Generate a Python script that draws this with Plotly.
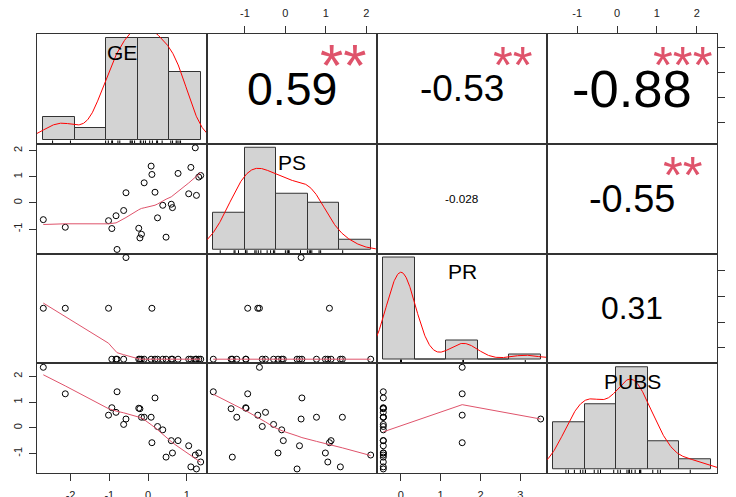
import numpy as np
import plotly.graph_objects as go

# ---------------- data ----------------
VARS = ["GE", "PS", "PR", "PUBS"]
GE = [-2.705, -2.137, -1.02, -0.935, -0.827, -0.80, -0.63, -0.57, -0.24, -0.21,
      -0.17, -0.10, 0.08, 0.10, 0.18, 0.245, 0.38, 0.465, 0.60, 0.63,
      0.775, 1.05, 1.106, 1.22, 1.25, 1.31, 1.36]
PS = [-0.64, -0.93, -0.68, -0.98, -0.49, -1.78, -0.29, 0.39, -0.97, -1.34,
      -1.20, 0.77, 1.41, 1.09, 0.41, -0.57, -0.09, -1.31, -0.05, -0.18,
      1.13, 0.35, 1.36, 2.11, 0.29, 0.99, 1.05]
PR = [1.54, 1.54, 1.54, -0.44, -0.44, -0.44, -0.44, 3.51, -0.44, -0.44,
      -0.44, -0.44, -0.44, 1.54, -0.44, -0.44, -0.44, -0.44, -0.44, -0.44,
      -0.44, -0.44, -0.44, -0.44, -0.44, -0.44, -0.44]
PUBS = [2.35, 1.32, 0.49, 0.78, 0.60, 1.40, 0.13, 0.34, 0.76, 0.74,
        0.41, 0.41, 0.41, -0.58, 1.16, 0.05, -0.08, -1.14, -0.50, -0.98,
        -0.50, -0.70, -1.52, -1.06, -1.60, -0.98, -1.33]

COR_PAIRS = [(0, 1), (0, 2), (0, 3), (1, 2), (1, 3), (2, 3)]
COR_TEXT = ["0.59", "-0.53", "-0.88", "-0.028", "-0.55", "0.31"]
COR_VALUE = [0.59, -0.53, -0.88, -0.028, -0.55, 0.31]
COR_STARS = ["**", "**", "***", "", "**", ""]

HIST_BREAKS = {"GE": [-3, -2, -1, 0, 1, 2], "PS": [-2, -1, 0, 1, 2, 3],
               "PR": [-1, 0, 1, 2, 3, 4], "PUBS": [-2, -1, 0, 1, 2, 3]}
TICKS = {"GE": [-2, -1, 0, 1], "PS": [-1, 0, 1, 2], "PR": [0, 1, 2, 3], "PUBS": [-1, 0, 1, 2]}

DATA = {"GE": np.array(GE), "PS": np.array(PS), "PR": np.array(PR), "PUBS": np.array(PUBS)}

FONT = "Liberation Sans, Arial, sans-serif"
SMOOTH_COL = "#DF536B"
BORDER = "#333333"


# ---------------- helpers (R equivalents) ----------------
def rlim(v):
    lo, hi = float(np.min(v)), float(np.max(v))
    d = hi - lo
    return [lo - 0.04 * d, hi + 0.04 * d]


def _lowest(x, y, n, xs, nleft, nright, rw, userw):
    rng = x[-1] - x[0]
    h = max(xs - x[nleft], x[nright] - xs)
    h9, h1 = 0.999 * h, 0.001 * h
    w = np.zeros(n)
    a = 0.0
    j = nleft
    while j < n:
        r = abs(x[j] - xs)
        if r <= h9:
            w[j] = 1.0 if r <= h1 else (1 - (r / h) ** 3) ** 3
            if userw:
                w[j] *= rw[j]
            a += w[j]
        elif x[j] > xs:
            break
        j += 1
    nrt = j - 1
    if a <= 0:
        return 0.0, False
    sl = slice(nleft, nrt + 1)
    w[sl] /= a
    if h > 0:
        a2 = np.sum(w[sl] * x[sl])
        b = xs - a2
        c = np.sum(w[sl] * (x[sl] - a2) ** 2)
        if np.sqrt(c) > 0.001 * rng:
            b /= c
            w[sl] *= (b * (x[sl] - a2) + 1)
    return float(np.sum(w[sl] * y[sl])), True


def lowess(x, y, f=2 / 3, it=3):
    order = np.argsort(x, kind="stable")
    x = np.asarray(x, float)[order]
    y = np.asarray(y, float)[order]
    n = len(x)
    ns = max(2, min(n, int(f * n + 1e-7)))
    delta = 0.01 * (x[-1] - x[0])
    ys = np.zeros(n)
    rw = np.ones(n)
    for itn in range(it + 1):
        nleft, nright = 0, ns - 1
        last = -1
        i = 0
        while True:
            if nright < n - 1:
                d1 = x[i] - x[nleft]
                d2 = x[nright + 1] - x[i]
                if d1 > d2:
                    nleft += 1
                    nright += 1
                    continue
            val, ok = _lowest(x, y, n, x[i], nleft, nright, rw, itn > 0)
            ys[i] = val if ok else y[i]
            if last < i - 1:
                denom = x[i] - x[last]
                for jj in range(last + 1, i):
                    al = (x[jj] - x[last]) / denom
                    ys[jj] = al * ys[i] + (1 - al) * ys[last]
            last = i
            cut = x[last] + delta
            i = last + 1
            while i < n:
                if x[i] > cut:
                    break
                if x[i] == x[last]:
                    ys[i] = ys[last]
                    last = i
                i += 1
            i = max(last + 1, i - 1)
            if last >= n - 1:
                break
        res = y - ys
        if itn >= it:
            break
        sc = np.mean(np.abs(res))
        cmad = 6 * np.median(np.abs(res))
        if cmad < 1e-7 * sc:
            break
        c9, c1 = 0.999 * cmad, 0.001 * cmad
        r = np.abs(res)
        rw = np.where(r <= c1, 1.0, np.where(r <= c9, (1 - (r / cmad) ** 2) ** 2, 0.0))
    return x, ys


def density(v):
    v = np.asarray(v, float)
    n = len(v)
    hi = np.std(v, ddof=1)
    q75, q25 = np.percentile(v, [75, 25])
    lo = min(hi, (q75 - q25) / 1.34)
    if not lo:
        lo = hi
    bw = 0.9 * lo * n ** -0.2
    gx = np.linspace(v.min() - 3 * bw, v.max() + 3 * bw, 512)
    gy = np.exp(-0.5 * ((gx[:, None] - v[None, :]) / bw) ** 2).sum(axis=1) / (n * bw * np.sqrt(2 * np.pi))
    return gx, gy


def hist_density(v, breaks):
    b = np.asarray(breaks, float)
    idx = np.searchsorted(b, v, side="left") - 1
    idx = np.clip(idx, 0, len(b) - 2)
    counts = np.bincount(idx, minlength=len(b) - 1)
    dens = counts / (len(v) * np.diff(b))
    return (b[:-1] + b[1:]) / 2, np.diff(b), dens


def str_em(s):
    w = {"-": 0.333, ".": 0.278}
    return sum(w.get(ch, 0.556) for ch in s)


# ---------------- figure ----------------
fig = go.Figure()
layout = {}
annotations = []
N = 4


def ax_names(k):
    s = "" if k == 1 else str(k)
    return "xaxis" + s, "yaxis" + s, "x" + s, "y" + s


shown_x = {(3, 0): "bottom", (3, 2): "bottom", (0, 1): "top", (0, 3): "top"}
shown_y = {(1, 0): "left", (3, 0): "left", (0, 3): "right", (2, 3): "right"}

for i in range(N):
    for j in range(N):
        k = i * N + j + 1
        xa, ya, xr, yr = ax_names(k)
        vx, vy = VARS[j], VARS[i]
        if i == j:
            b = HIST_BREAKS[vx]
            xc, wd, dens = hist_density(DATA[vx], b)
            span = b[-1] - b[0]
            xrange = [b[0] - 0.04 * span, b[-1] + 0.04 * span]
            md = dens.max()
            yrange = [-0.04 * md, 1.04 * md]
            fig.add_trace(go.Bar(x=xc, y=dens, width=wd, marker=dict(color="#D3D3D3", line=dict(color=BORDER, width=1)),
                                 xaxis=xr, yaxis=yr, showlegend=False, hoverinfo="skip"))
            gx, gy = density(DATA[vx])
            fig.add_trace(go.Scatter(x=gx, y=gy, mode="lines", line=dict(color="#FF0000", width=1),
                                     xaxis=xr, yaxis=yr, showlegend=False, hoverinfo="skip"))
            rx, ry = [], []
            y0 = yrange[0]
            y1 = yrange[0] + 0.03 * (yrange[1] - yrange[0])
            for v in DATA[vx]:
                rx += [v, v, None]
                ry += [y0, y1, None]
            fig.add_trace(go.Scatter(x=rx, y=ry, mode="lines", line=dict(color="black", width=1),
                                     xaxis=xr, yaxis=yr, showlegend=False, hoverinfo="skip"))
            annotations.append(dict(x=(j + 0.5) / N, y=1 - (i + 1 - 0.8333) / N, xref="paper", yref="paper",
                                    text=vx, showarrow=False, font=dict(family=FONT, size=21, color="black"),
                                    xanchor="center", yanchor="middle"))
        else:
            xrange = rlim(DATA[vx])
            yrange = rlim(DATA[vy])
            if i > j:
                fig.add_trace(go.Scatter(x=DATA[vx], y=DATA[vy], mode="markers",
                                         marker=dict(symbol="circle-open", size=6, color="black", line=dict(width=1)),
                                         xaxis=xr, yaxis=yr, showlegend=False, hoverinfo="skip"))
                lx, ly = lowess(DATA[vx], DATA[vy])
                fig.add_trace(go.Scatter(x=lx, y=ly, mode="lines", line=dict(color=SMOOTH_COL, width=1),
                                         xaxis=xr, yaxis=yr, showlegend=False, hoverinfo="skip"))
            else:
                fig.add_trace(go.Scatter(x=[None], y=[None], mode="markers", xaxis=xr, yaxis=yr,
                                         showlegend=False, hoverinfo="skip"))
                idx = COR_PAIRS.index((i, j))
                txt = COR_TEXT[idx]
                r = COR_VALUE[idx]
                base = 132.0 / str_em(txt)
                fsize = base * (abs(r) + 0.3) / 1.3
                annotations.append(dict(x=(j + 0.5) / N, y=1 - (i + 0.5) / N, xref="paper", yref="paper",
                                        text=txt, showarrow=False, font=dict(family=FONT, size=fsize, color="black"),
                                        xanchor="center", yanchor="middle"))
                if COR_STARS[idx]:
                    annotations.append(dict(x=(j + 0.8) / N, y=1 - (i + 0.2) / N, xref="paper", yref="paper",
                                            text=COR_STARS[idx], showarrow=False,
                                            font=dict(family=FONT, size=0.88 * base, color=SMOOTH_COL),
                                            xanchor="center", yanchor="middle", yshift=-10))
        xcfg = dict(domain=[j / N, (j + 1) / N], anchor=yr, range=xrange, showline=True, mirror=True,
                    linecolor=BORDER, linewidth=1, showgrid=False, zeroline=False, showticklabels=False,
                    ticks="", fixedrange=True, automargin=False)
        ycfg = dict(domain=[1 - (i + 1) / N, 1 - i / N], anchor=xr, range=yrange, showline=True, mirror=True,
                    linecolor=BORDER, linewidth=1, showgrid=False, zeroline=False, showticklabels=False,
                    ticks="", fixedrange=True, automargin=False)
        if (i, j) in shown_x:
            xcfg.update(side=shown_x[(i, j)], ticks="outside", ticklen=7, tickwidth=1, tickcolor=BORDER,
                        tickmode="array", tickvals=TICKS[vx], ticktext=[str(t) for t in TICKS[vx]],
                        showticklabels=True, tickfont=dict(family=FONT, size=11, color="#222"),
                        ticklabelstandoff=5)
        if (i, j) in shown_y:
            ycfg.update(side=shown_y[(i, j)], ticks="outside", ticklen=7, tickwidth=1, tickcolor=BORDER,
                        tickmode="array", tickvals=TICKS[vy], ticktext=[str(t) for t in TICKS[vy]],
                        showticklabels=True, tickangle=-90, tickfont=dict(family=FONT, size=11, color="#222"),
                        ticklabelstandoff=3)
        layout[xa] = xcfg
        layout[ya] = ycfg

fig.update_layout(**layout)
# the page body adds an 8px offset, so the figure is 728x489 to fill the 736x497 window
fig.update_layout(width=728, height=489, margin=dict(l=29, r=19, t=26, b=24, pad=0, autoexpand=False),
                  paper_bgcolor="white", plot_bgcolor="white", annotations=annotations,
                  barmode="overlay", bargap=0, showlegend=False)
fig.write_html("out.html")
